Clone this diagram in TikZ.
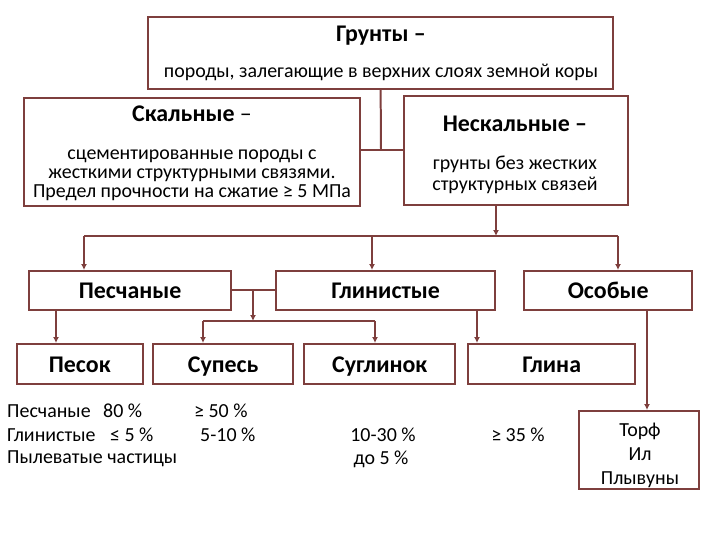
\documentclass[tikz,border=0pt]{standalone}
\usepackage{fontspec}
\setmainfont{Carlito}
\usetikzlibrary{positioning,arrows.meta,calc}
\definecolor{linkBrown}{HTML}{7E3F3D}

\begin{document}
\begin{tikzpicture}[
  x=1bp, y=-1bp,
  font=\fontsize{20}{24}\selectfont,
  >={Latex[length=6pt,width=6pt]},
  %% Box styles
  frame/.style n args={2}{
    draw=linkBrown, line width=2pt, fill=white,
    inner sep=0pt, anchor=north west,
    minimum width=#1, minimum height=#2
  },
  head/.style={font=\fontsize{24}{28}\selectfont\bfseries},
  cell/.style={head, text height=18.5pt, text depth=2pt},
  body/.style={font=\fontsize{20}{24}\selectfont, align=center},
  data/.style={font=\fontsize{20}{24}\selectfont, anchor=west, inner sep=0pt},
  %% Connector styles
  link/.style={draw=linkBrown, line width=2pt},
  arr/.style={->, draw=linkBrown, line width=2pt},
]
\useasboundingbox (0,0) rectangle (720,540);

%% ── Top level ──────────────────────────────────────────────────────────────
\node[frame={467}{72}] (grunty) at (147,16) {};
\node[head] (grunty-t) at (381,36) {Грунты –};
\node[body] (grunty-s) at (381,72) {породы, залегающие в верхних слоях земной коры};

%% ── Second level ───────────────────────────────────────────────────────────
\node[frame={337}{108}] (skal) at (23,97) {};
\node[head] (skal-t) at (192,114) {Скальные {\mdseries –}};
\node[body, font=\fontsize{20}{19}\selectfont] (skal-s) at (192,175)
  {сцементированные породы с\\жесткими структурными связями.\\Предел прочности на сжатие ≥ 5 МПа};

\node[frame={225}{109}] (neskal) at (403,95) {};
\node[head] (neskal-t) at (515,124) {Нескальные –};
\node[body, font=\fontsize{20}{21}\selectfont] (neskal-s) at (515,175) {грунты без жестких\\структурных связей};

\coordinate (j1) at (381,150);
\draw[link] (grunty.south) -- (j1);
\draw[link] (skal.east |- j1) -- (neskal.west |- j1);

%% ── Third level ────────────────────────────────────────────────────────────
\node[frame={203}{39}, cell] (pesch) at (28,270) {Песчаные};
\node[frame={220}{39}, cell] (glin)  at (275,270) {Глинистые};
\node[frame={169}{39}, cell] (osob)  at (523,270) {Особые};

\coordinate (b1) at (496,236);
\coordinate (bl) at (84,236);
\coordinate (bm) at (372,236);
\coordinate (br) at (618,236);
\draw[arr]  (neskal.south -| b1) -- (b1);
\draw[link] (bl) -- (br);
\draw[arr]  (bl) -- (pesch.north -| bl);
\draw[arr]  (bm) -- (glin.north -| bm);
\draw[arr]  (br) -- (osob.north -| br);

%% ── Fourth level ───────────────────────────────────────────────────────────
\node[frame={126}{40}, cell] (pesok)  at (16,343)  {Песок};
\node[frame={141}{40}, cell] (supes)  at (152,343) {Супесь};
\node[frame={152}{40}, cell] (sugl)   at (303,343) {Суглинок};
\node[frame={168}{40}, cell] (glina)  at (467,343) {Глина};
\node[frame={120}{78}] (torf) at (578,410) {};
\node[body] (torf-t) at (640,455) {Торф\\Ил\\Плывуны};

\coordinate (pg) at (253,290);
\coordinate (c2) at (253,321);
\coordinate (c2l) at (203,321);
\coordinate (c2r) at (375,321);
\draw[link] (pesch.east) -- (glin.west);
\draw[arr]  (pg) -- (c2);
\draw[link] (c2l) -- (c2r);
\draw[arr]  (c2l) -- (supes.north -| c2l);
\draw[arr]  (c2r) -- (sugl.north -| c2r);

\coordinate (p1) at (56,0);
\coordinate (g1) at (477,0);
\coordinate (o1) at (647,0);
\draw[arr] (pesch.south -| p1) -- (pesok.north -| p1);
\draw[arr] (glin.south -| g1) -- (glina.north -| g1);
\draw[arr] (osob.south -| o1) -- (torf.north -| o1);

%% ── Composition ────────────────────────────────────────────────────────────
\node[data] (d1)  at (7,411)   {Песчаные};
\node[data] (d2)  at (103,411) {80 \%};
\node[data] (d3)  at (7,435)   {Глинистые};
\node[data] (d4)  at (110,435) {≤ 5 \%};
\node[data] (d5)  at (7,459)   {Пылеватые частицы};
\node[data] (d6)  at (194,411) {≥ 50 \%};
\node[data] (d7)  at (200,435) {5-10 \%};
\node[body] (d8)  at (383,435) {10-30 \%};
\node[body] (d9)  at (381,459) {до 5 \%};
\node[body] (d10) at (518,435) {≥ 35 \%};

\end{tikzpicture}
\end{document}
